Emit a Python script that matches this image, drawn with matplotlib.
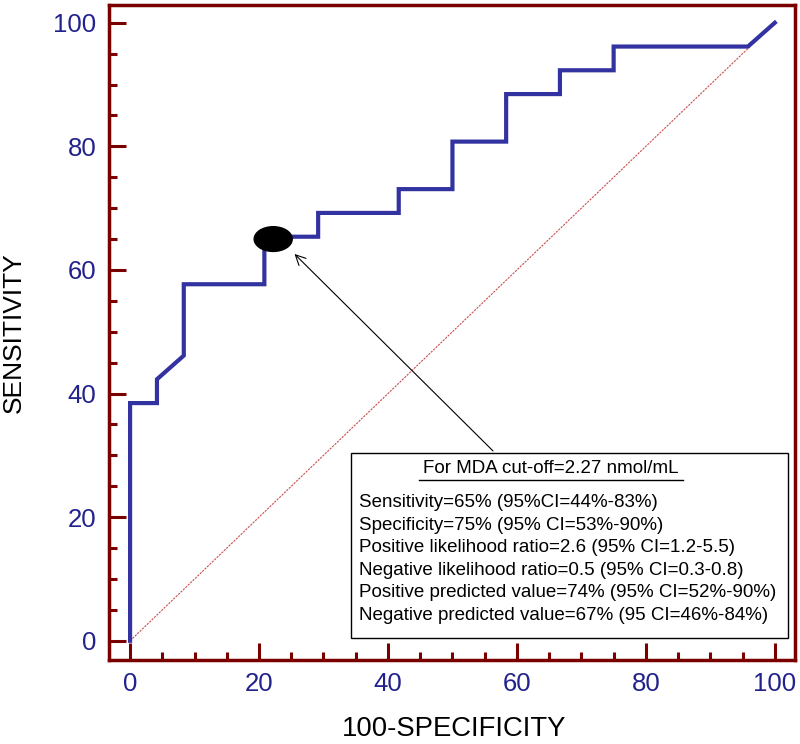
import matplotlib
matplotlib.use("Agg")
import matplotlib.pyplot as plt
from matplotlib.patches import Ellipse, Rectangle

# ROC curve, 24 negatives / 26 positives
fpr = [0, 0, 4.17, 4.17, 8.33, 8.33, 20.83, 20.83, 29.17, 29.17, 41.67, 41.67,
       50, 50, 58.33, 58.33, 66.67, 66.67, 75, 75, 95.83, 100]
tpr = [0, 38.46, 38.46, 42.31, 46.15, 57.69, 57.69, 65.38, 65.38, 69.23, 69.23, 73.08,
       73.08, 80.77, 80.77, 88.46, 88.46, 92.31, 92.31, 96.15, 96.15, 100]
cutoff_x = 22.2
cutoff_y = 65.0
ticks = [0, 20, 40, 60, 80, 100]

title_line = "For MDA cut-off=2.27 nmol/mL"
stat_lines = [
    "Sensitivity=65% (95%CI=44%-83%)",
    "Specificity=75% (95% CI=53%-90%)",
    "Positive likelihood ratio=2.6 (95% CI=1.2-5.5)",
    "Negative likelihood ratio=0.5 (95% CI=0.3-0.8)",
    "Positive predicted value=74% (95% CI=52%-90%)",
    "Negative predicted value=67% (95 CI=46%-84%)",
]

spine_col = "#7a0000"
tick_col = "#22228c"
plt.rcParams["font.family"] = ["Liberation Sans", "DejaVu Sans"]

fig = plt.figure(figsize=(8, 7.44), dpi=100)
ax = fig.add_axes([0.136, 0.113, 0.8575, 0.8805])

ax.plot([0, 100], [0, 100], color="#c85050", lw=0.8, ls=(0, (2, 1)))
ax.plot(fpr, tpr, color="#3232a0", lw=3, solid_joinstyle="miter")
ax.add_patch(Ellipse((cutoff_x, cutoff_y), 5.9, 4.0, color="black", zorder=5))

ax.set_xlim(-3.3, 103.1)
ax.set_ylim(-3.1, 102.9)
ax.set_xticks(ticks)
ax.set_yticks(ticks)
ax.set_xticks(range(0, 101, 5), minor=True)
ax.set_yticks(range(0, 101, 5), minor=True)
ax.tick_params(which="both", direction="in", color=spine_col, width=2.2,
               top=False, right=False)
ax.tick_params(which="major", length=12, labelsize=18.5, labelcolor=tick_col)
ax.tick_params(which="minor", length=6)
ax.tick_params(axis="y", which="major", pad=9)
ax.tick_params(axis="x", which="major", pad=9)
for s in ax.spines.values():
    s.set_color(spine_col)
    s.set_linewidth(2.5)

ax.set_ylabel("SENSITIVITY", fontsize=19)
ax.set_xlabel("100-SPECIFICITY", fontsize=19.8)
ax.yaxis.set_label_coords(-0.121, 0.5)
ax.xaxis.set_label_coords(0.503, -0.085)

# info box
ax.add_patch(Rectangle((34.2, 0.5), 67.8, 29.9, fill=False, ec="black", lw=1, zorder=6))
ax.annotate("", xy=(25.2, 62.9), xytext=(56.6, 30.4),
            arrowprops=dict(arrowstyle="->", color="black", lw=0.8, mutation_scale=18))
ax.text(65.2, 27.8, title_line, fontsize=13.5, ha="center", va="center")
ax.plot([44.8, 85.7], [26.05, 26.05], color="black", lw=1)
for i, line in enumerate(stat_lines):
    ax.text(35.5, 22.3 - i * 3.64, line, fontsize=13.5, ha="left", va="center")

fig.savefig("out.png", dpi=100)
